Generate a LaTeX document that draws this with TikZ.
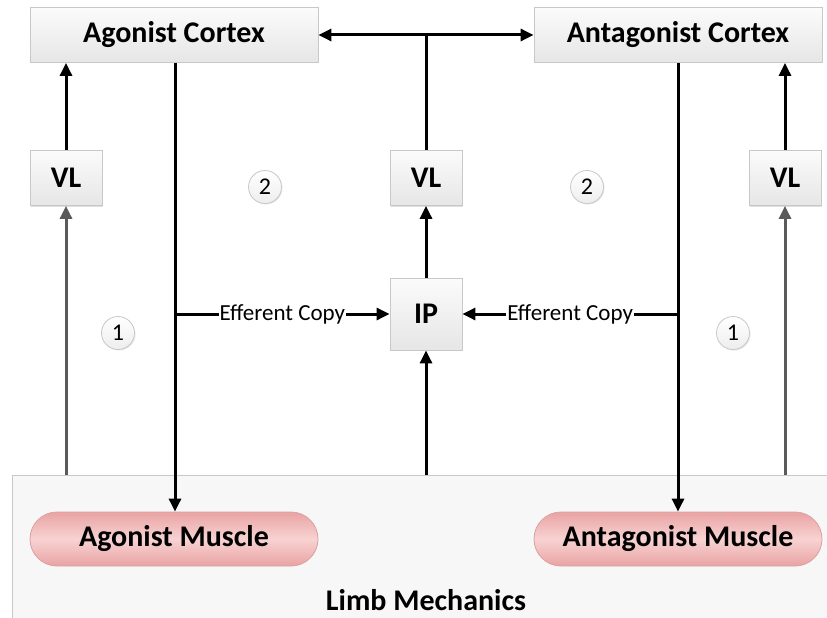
\documentclass[tikz,border=0pt]{standalone}
\usepackage{fontspec}
\setmainfont{Carlito}
\usetikzlibrary{arrows.meta,shapes.misc,shadows}
\definecolor{boxedge}{HTML}{C8C8C8}
\definecolor{boxtop}{HTML}{FBFBFB}
\definecolor{boxbot}{HTML}{E6E6E6}
\definecolor{musmid}{HTML}{F8D2D2}
\definecolor{musedge}{HTML}{E9A3A3}
\definecolor{musline}{HTML}{DDA0A0}
\definecolor{graywire}{HTML}{5A5A5A}
\tikzset{
  pbox/.style={draw=boxedge, line width=0.8pt, top color=boxtop, bottom color=boxbot,
    drop shadow={shadow xshift=1pt, shadow yshift=-1pt, opacity=0.25},
    font=\bfseries\fontsize{30}{34}\selectfont, inner sep=0pt, anchor=center},
  muscle/.style={rounded rectangle, draw=musline, line width=0.8pt,
    top color=musedge, bottom color=musedge, middle color=musmid,
    minimum width=288pt, minimum height=54pt, inner sep=0pt,
    font=\bfseries\fontsize{30}{34}\selectfont},
  numc/.style={circle, draw=boxedge, line width=0.8pt, top color=white, bottom color=boxbot!70,
    drop shadow={shadow xshift=1pt, shadow yshift=-1pt, opacity=0.2},
    minimum size=33pt, inner sep=0pt, font=\fontsize{24}{26}\selectfont},
  conn/.style={line width=3pt, -{Triangle[length=13pt,width=12pt]}},
  gconn/.style={conn, draw=graywire, -{Triangle[length=13pt,width=12pt,fill=graywire]}},
  lbl/.style={fill=white, inner sep=1pt, font=\fontsize{23}{26}\selectfont}
}
\begin{document}
\begin{tikzpicture}[x=1pt,y=-1pt]
\useasboundingbox (0,0) rectangle (827,618);
% Limb mechanics background
\node[draw=boxedge, line width=0.8pt, fill=black!3, minimum width=818pt, minimum height=146pt,
  inner sep=0pt, anchor=north west] (limb) at (12,475) {};
\node[font=\bfseries\fontsize{30}{34}\selectfont] (limbtxt) at (426,600) {Limb Mechanics};
% cortex boxes
\node[pbox, minimum width=288pt, minimum height=55pt] (ac) at (174,35) {Agonist Cortex};
\node[pbox, minimum width=288pt, minimum height=55pt] (nc) at (678,35) {Antagonist Cortex};
% VL boxes
\node[pbox, minimum width=72pt, minimum height=55pt] (vl1) at (66,178) {VL};
\node[pbox, minimum width=72pt, minimum height=55pt] (vl2) at (426,178) {VL};
\node[pbox, minimum width=72pt, minimum height=55pt] (vl3) at (785,178) {VL};
% IP
\node[pbox, minimum width=72pt, minimum height=72pt] (ip) at (426,314) {IP};
% muscles
\node[muscle] (am) at (174,539) {Agonist Muscle};
\node[muscle] (nm) at (678,539) {Antagonist Muscle};
% numbers
\node[numc] (n2a) at (265,187) {2};
\node[numc] (n2b) at (587,187) {2};
\node[numc] (n1a) at (118,333) {1};
\node[numc] (n1b) at (733,333) {1};
% coordinates
\coordinate (top) at (426,35);
\coordinate (gl) at (66,475);
\coordinate (gm) at (426,475);
\coordinate (gr) at (785,475);
\coordinate (ja) at (175,314);
\coordinate (jn) at (678,314);
% connectors
\draw[line width=3pt] (vl2.north) -- (top);
\draw[line width=3pt, {Triangle[length=13pt,width=12pt]}-{Triangle[length=13pt,width=12pt]}] (ac.east) -- (nc.west);
\draw[conn] (vl1.north) -- (vl1.north |- ac.south);
\draw[conn] (vl3.north) -- (vl3.north |- nc.south);
\draw[gconn] (gl) -- (vl1.south);
\draw[gconn] (gr) -- (vl3.south);
\draw[conn] (gm) -- (ip.south);
\draw[conn] (ip.north) -- (vl2.south);
\draw[conn] (ac.south -| ja) -- (am.north -| ja);
\draw[conn] (nc.south -| jn) -- (nm.north -| jn);
\draw[conn] (ja) -- node[lbl] (ec1) {Efferent Copy} (ip.west);
\draw[conn] (jn) -- node[lbl] (ec2) {Efferent Copy} (ip.east);
\end{tikzpicture}
\end{document}
